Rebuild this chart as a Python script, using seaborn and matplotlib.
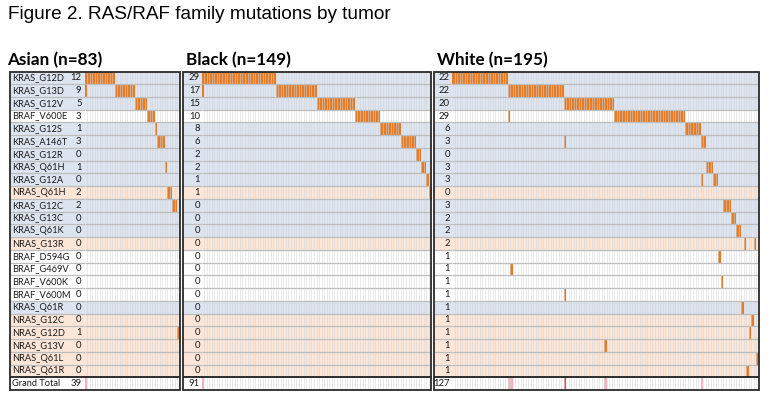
import matplotlib
matplotlib.use("Agg")
import numpy as np
import pandas as pd
import seaborn as sns
import matplotlib.pyplot as plt
from matplotlib.colors import ListedColormap
from matplotlib.patches import Rectangle

# ---------------- data ----------------
genes = ["KRAS_G12D", "KRAS_G13D", "KRAS_G12V", "BRAF_V600E", "KRAS_G12S",
         "KRAS_A146T", "KRAS_G12R", "KRAS_Q61H", "KRAS_G12A", "NRAS_Q61H",
         "KRAS_G12C", "KRAS_G13C", "KRAS_Q61K", "NRAS_G13R", "BRAF_D594G",
         "BRAF_G469V", "BRAF_V600K", "BRAF_V600M", "KRAS_Q61R", "NRAS_G12C",
         "NRAS_G12D", "NRAS_G13V", "NRAS_Q61L", "NRAS_Q61R"]

panel_titles = ["Asian (n=83)", "Black (n=149)", "White (n=195)"]

# mutated-sample column indices for each gene (one column per mutated tumor)
asian_ncols = 38
asian_hits = [
    list(range(0, 12)), [0] + list(range(12, 20)), list(range(20, 25)),
    list(range(25, 28)), [28], list(range(29, 32)), [], [32], [],
    [33, 34], [35, 36], [], [], [], [], [], [], [], [], [], [37], [], [], [],
]

black_ncols = 90
black_hits = [
    list(range(0, 29)), [0] + list(range(29, 45)), list(range(45, 60)),
    list(range(60, 70)), list(range(70, 78)), list(range(78, 84)),
    [84, 85], [86, 87], [88], [89],
    [], [], [], [], [], [], [], [], [], [], [], [], [], [],
]

white_ncols = 121
white_hits = [
    list(range(0, 22)), list(range(22, 44)), list(range(44, 64)),
    [22] + list(range(64, 92)), list(range(92, 98)), [44, 98, 99], [],
    [100, 101, 102], [98, 103, 104], [], [107, 108, 109], [110, 111],
    [112, 113], [115, 119], [105], [23], [106], [44], [114], [118], [117],
    [60], [120], [116],
]

# ---------------- styling ----------------
W, H = 768, 400
TOP, BOT = 71.5, 390.0
NROWS = len(genes) + 1
RH = (BOT - TOP) / NROWS

C_WHITE = "#ffffff"
C_BLUE = "#dbe4ef"
C_PEACH = "#fbe6d8"
C_ORANGE = "#e27d2c"
C_PINK = "#f3b2bd"
C_RED = "#e25a6c"
cmap = ListedColormap([C_WHITE, C_BLUE, C_PEACH, C_ORANGE, C_PINK, C_RED])
cat_val = {"BRAF": 0, "KRAS": 1, "NRAS": 2}

layout = [
    dict(x0=10.0, hm0=84.5, x1=180.0, cnt=81.5, names=True, tx=7.3),
    dict(x0=183.0, hm0=201.5, x1=431.5, cnt=200.0, names=False, tx=185.7),
    dict(x0=434.0, hm0=452.0, x1=759.0, cnt=450.0, names=False, tx=437.3),
]
all_hits = [asian_hits, black_hits, white_hits]
all_ncols = [asian_ncols, black_ncols, white_ncols]

sns.set_theme(style="white")
plt.rcParams["font.family"] = ["Lato", "DejaVu Sans"]

fig = plt.figure(figsize=(W / 100, H / 100), dpi=100)
fig.patch.set_facecolor("white")


def fr(x0, y0, x1, y1):
    return [x0 / W, 1 - y1 / H, (x1 - x0) / W, (y1 - y0) / H]


row_cats = np.array([cat_val[g.split("_")[0]] for g in genes] + [0])

for title, hits, ncols, lay in zip(panel_titles, all_hits, all_ncols, layout):
    mat = np.repeat(row_cats[:, None], ncols, axis=1).astype(float)
    mult = np.zeros(ncols)
    for i, cols in enumerate(hits):
        if cols:
            mat[i, cols] = 3
            mult[cols] += 1
    mat[-1, :] = 0
    mat[-1, mult == 2] = 4
    mat[-1, mult >= 3] = 5
    counts = [len(c) for c in hits]
    total = sum(counts)

    ax = fig.add_axes(fr(lay["hm0"], TOP, lay["x1"], BOT))
    sns.heatmap(pd.DataFrame(mat), ax=ax, cmap=cmap, vmin=-0.5, vmax=5.5,
                cbar=False, linewidths=0, xticklabels=False, yticklabels=False)
    # thin column separators
    ax.vlines(np.arange(1, ncols), 0, NROWS, color="#d6d6d6", lw=0.45,
              alpha=0.8)
    ax.hlines(np.arange(1, NROWS - 1), 0, ncols, color="#bdbdbd", lw=0.9)
    ax.hlines(NROWS - 1, 0, ncols, color="#1e1e1e", lw=1.3)
    ax.set_xlabel("")
    ax.set_ylabel("")

    axl = fig.add_axes(fr(lay["x0"], TOP, lay["hm0"], BOT))
    sns.heatmap(pd.DataFrame(row_cats[:, None].astype(float)), ax=axl,
                cmap=cmap, vmin=-0.5, vmax=5.5, cbar=False, linewidths=0,
                xticklabels=False, yticklabels=False)
    axl.hlines(np.arange(1, NROWS - 1), 0, 1, color="#bdbdbd", lw=0.9)
    axl.hlines(NROWS - 1, 0, 1, color="#1e1e1e", lw=1.3)
    axl.set_xlabel("")
    axl.set_ylabel("")

    labels = genes + ["Grand Total"]
    values = counts + [total]
    for i in range(NROWS):
        yc = TOP + (i + 0.5) * RH
        if lay["names"]:
            fig.text((lay["x0"] + 2.0) / W, 1 - yc / H, labels[i],
                     fontsize=6.7, color="#1a1a1a", va="center", ha="left")
        fig.text(lay["cnt"] / W, 1 - yc / H, str(values[i]),
                 fontsize=6.8, color="#1a1a1a", va="center", ha="right")

    fig.add_artist(Rectangle((lay["x0"] / W, 1 - BOT / H),
                             (lay["x1"] - lay["x0"]) / W, (BOT - TOP) / H,
                             transform=fig.transFigure, fill=False,
                             lw=1.3, ec="#2a2a2a", zorder=10))

    fig.text(lay["tx"] / W, 1 - 65 / H, title, fontsize=12.3,
             fontweight="bold", color="#000000", va="baseline", ha="left")

fig.text(8 / W, 1 - 19 / H, "Figure 2. RAS/RAF family mutations by tumor",
         family=["Liberation Sans", "DejaVu Sans"], fontsize=13.7,
         color="#000000", va="baseline", ha="left")

fig.savefig("out.png", dpi=100)
